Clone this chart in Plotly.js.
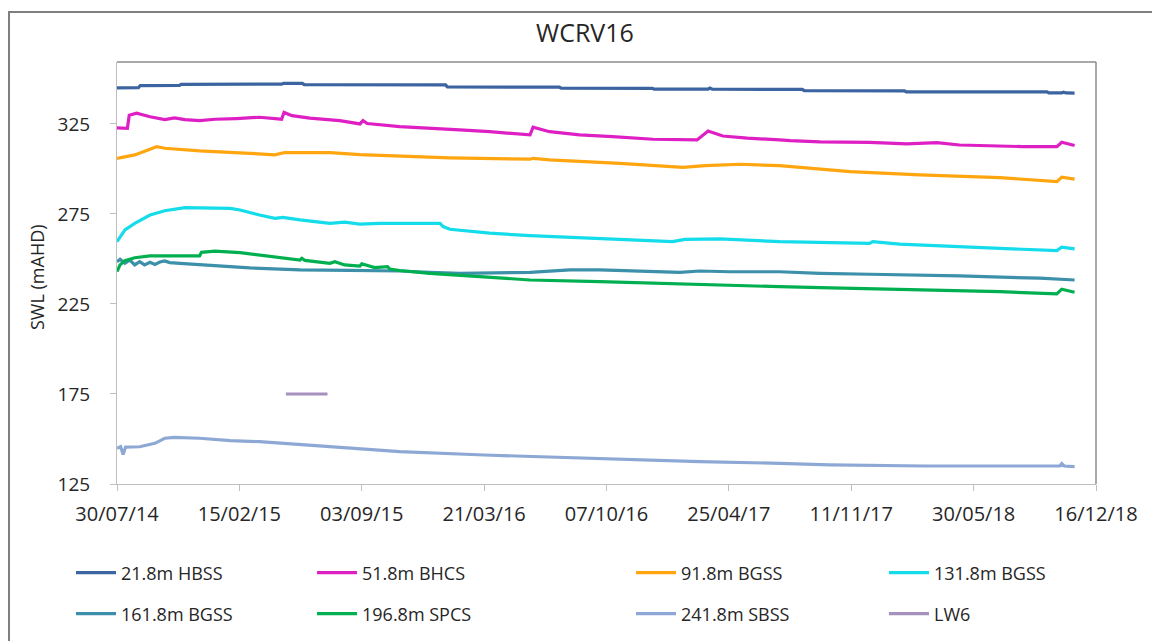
<!DOCTYPE html>
<html>
<head>
<meta charset="utf-8">
<script src="https://cdn.plot.ly/plotly-3.0.1.min.js"></script>
<style>
  html, body { margin: 0; padding: 0; background: #ffffff; }
  #wrap { position: relative; width: 1152px; height: 641px; overflow: hidden; }
  #chart { position: absolute; left: 0; top: 0; width: 1152px; height: 641px; }
  #frame { position: absolute; left: 8px; top: 11px; width: 1300px; height: 800px;
           border-left: 2px solid #7f7f7f; border-top: 2px solid #7f7f7f; pointer-events: none; }
</style>
</head>
<body>
<div id="wrap"><div id="chart"></div><div id="frame"></div></div>
<script>
// ---- Data ----
const chartTitle = 'WCRV16';
const yTitle = 'SWL (mAHD)';
const seriesNames = ['21.8m HBSS', '51.8m BHCS', '91.8m BGSS', '131.8m BGSS',
                     '161.8m BGSS', '196.8m SPCS', '241.8m SBSS', 'LW6'];

const xTickVals = ['2014-07-30','2015-02-15','2015-09-03','2016-03-21','2016-10-07',
                   '2017-04-25','2017-11-11','2018-05-30','2018-12-16'];
const xTickText = ['30/07/14','15/02/15','03/09/15','21/03/16','07/10/16',
                   '25/04/17','11/11/17','30/05/18','16/12/18'];
const yTickVals = [125, 175, 225, 275, 325];

const hbssDates = ['2014-07-30','2014-09-03','2014-09-06','2014-11-09','2014-11-12','2015-04-25','2015-04-28',
  '2015-05-29','2015-06-01','2016-01-18','2016-01-21','2016-05-28','2016-05-31','2016-06-04','2016-07-22',
  '2016-07-25','2016-12-21','2016-12-24','2017-03-22','2017-03-25','2017-03-29','2017-08-23','2017-08-26',
  '2018-02-06','2018-02-09','2018-09-27','2018-09-30','2018-10-21','2018-10-24','2018-10-28','2018-11-11'];
const hbssValues = [345.0,345.1,346.3,346.4,347.0,347.1,347.6,347.5,346.8,346.7,345.5,345.4,345.8,345.4,345.4,
  344.9,344.8,344.3,344.3,344.9,344.3,344.2,343.5,343.4,342.8,342.8,342.2,342.2,342.6,342.2,342.1];

const bhcsDates = ['2014-07-30','2014-08-16','2014-08-19','2014-08-31','2014-09-22','2014-10-16','2014-11-01',
  '2014-11-18','2014-12-12','2015-01-06','2015-02-10','2015-03-20','2015-04-19','2015-04-25','2015-04-29',
  '2015-05-12','2015-06-10','2015-07-29','2015-08-31','2015-09-05','2015-09-12','2015-11-04','2016-02-10',
  '2016-03-30','2016-06-04','2016-06-09','2016-07-06','2016-08-24','2016-10-17','2016-12-22','2017-03-04',
  '2017-03-22','2017-04-15','2017-05-25','2017-07-17','2017-08-03','2017-09-21','2017-12-11','2018-02-10',
  '2018-03-31','2018-05-07','2018-08-18','2018-10-13','2018-10-21','2018-11-11'];
const bhcsValues = [322.8,322.6,329.8,331.0,329.0,327.4,328.4,327.4,326.8,327.6,328.0,328.7,327.8,327.6,331.4,
  329.6,328.2,326.8,325.0,326.8,325.2,323.5,321.7,320.7,318.9,323.2,320.7,318.9,318.0,316.5,316.1,
  321.1,318.3,317.1,316.1,315.7,315.0,314.8,313.9,314.6,313.3,312.4,312.4,314.8,313.0];

const bgss91Dates = ['2014-07-30','2014-08-12','2014-08-28','2014-09-22','2014-10-03','2014-10-16','2014-12-12',
  '2015-03-04','2015-04-14','2015-04-30','2015-07-13','2015-08-31','2015-11-04','2016-01-25','2016-06-04',
  '2016-06-09','2016-07-06','2016-10-29','2017-02-09','2017-03-17','2017-05-14','2017-07-17','2017-11-09',
  '2018-03-03','2018-07-12','2018-10-13','2018-10-21','2018-11-11'];
const bgss91Values = [305.9,306.8,307.8,310.9,312.4,311.5,310.0,308.7,307.8,309.1,309.1,308.0,307.2,306.2,305.4,
  305.9,305.0,303.1,300.9,301.8,302.6,301.8,298.5,296.7,295.2,292.9,295.4,294.3];

const bgss131Dates = ['2014-07-30','2014-08-12','2014-08-28','2014-09-22','2014-10-16','2014-11-18','2015-01-31',
  '2015-02-16','2015-03-20','2015-04-14','2015-04-27','2015-05-25','2015-07-13','2015-08-06','2015-08-31',
  '2015-10-02','2016-01-09','2016-01-14','2016-01-25','2016-03-30','2016-06-04','2016-09-26','2016-12-17',
  '2017-01-23','2017-02-12','2017-04-10','2017-07-17','2017-12-11','2017-12-16','2018-01-29','2018-07-12',
  '2018-10-13','2018-10-21','2018-11-11'];
const bgss131Values = [259.6,266.1,269.8,274.4,276.8,278.5,278.1,277.2,274.4,272.6,273.1,271.7,269.8,270.4,269.3,
  269.8,269.8,268.0,266.5,264.3,263.0,261.5,260.0,259.6,260.9,261.1,259.6,258.7,259.6,258.2,255.9,
  254.6,256.5,255.6];

const bgss161Dates = ['2014-07-30','2014-08-04','2014-08-12','2014-08-20','2014-08-28','2014-09-05','2014-09-13',
  '2014-09-22','2014-09-30','2014-10-08','2014-10-16','2014-10-24','2014-11-10','2014-12-12','2015-01-31',
  '2015-03-04','2015-04-22','2015-05-25','2015-08-14','2015-11-04','2015-12-23','2016-02-10','2016-06-04',
  '2016-07-15','2016-08-08','2016-09-26','2016-10-29','2017-02-04','2017-03-08','2017-04-27','2017-07-17',
  '2017-09-21','2017-12-11','2018-05-07','2018-09-15','2018-11-11'];
const bgss161Values = [248.5,249.8,247.6,249.4,246.7,248.5,246.7,248.2,246.9,248.3,248.9,248.0,247.6,246.7,245.7,
  245.0,244.4,243.9,243.7,243.3,242.6,242.0,242.6,243.5,243.9,243.9,243.5,242.6,243.3,242.9,242.9,
  242.0,241.5,240.6,239.3,238.3];

const spcsDates = ['2014-07-30','2014-08-04','2014-08-12','2014-08-28','2014-09-22','2014-12-12','2014-12-15',
  '2015-01-06','2015-02-16','2015-03-20','2015-05-25','2015-05-28','2015-06-02','2015-07-13','2015-07-21',
  '2015-08-06','2015-08-31','2015-09-03','2015-09-24','2015-10-15','2015-10-19','2015-11-04','2015-12-23',
  '2016-03-14','2016-06-04','2016-09-26','2016-12-17','2017-03-08','2017-07-17','2017-09-21','2018-01-29',
  '2018-07-12','2018-10-13','2018-10-21','2018-11-11'];
const spcsValues = [243.0,246.7,249.1,250.7,251.7,251.7,253.7,254.3,253.5,252.2,249.4,250.4,249.2,247.6,248.5,
  246.7,246.1,247.3,245.2,245.7,244.4,243.6,242.0,240.2,238.3,237.4,236.5,235.9,234.6,234.1,233.2,
  231.8,230.6,233.2,231.5];

const sbssDates = ['2014-07-30','2014-08-05','2014-08-09','2014-08-13','2014-09-05','2014-09-30','2014-10-16',
  '2014-11-01','2014-12-12','2015-01-31','2015-03-20','2015-05-25','2015-08-14','2015-11-04','2016-03-21',
  '2016-09-26','2017-03-08','2017-07-17','2017-10-07','2018-03-11','2018-10-18','2018-10-21','2018-10-25',
  '2018-11-11'];
const sbssValues = [144.8,145.7,141.4,145.5,145.7,147.6,150.4,150.9,150.4,149.1,148.5,147.0,144.8,143.0,141.1,
  138.9,137.4,136.5,135.6,135.0,135.0,136.3,135.0,134.6];

const lw6Dates = ['2015-05-02','2015-07-09'];
const lw6Values = [175, 175];

// ---- Styling ----
const colors = ['#3B64A0', '#DE1FC4', '#FFA510', '#14DCEA', '#3C90AA', '#00B050', '#8EA8D6', '#A690BE'];
const xs = [hbssDates, bhcsDates, bgss91Dates, bgss131Dates, bgss161Dates, spcsDates, sbssDates, lw6Dates];
const ys = [hbssValues, bhcsValues, bgss91Values, bgss131Values, bgss161Values, spcsValues, sbssValues, lw6Values];

// legend layout: 4 columns x 2 rows (row-major order)
const colLinePx = [77, 318, 637, 890];
const rowCenterPx = [573, 614];
const FONT = '"Open Sans", "Liberation Sans", sans-serif';
const TXT = '#262626';

const traces = [];
const layout = {
  width: 1152, height: 641,
  paper_bgcolor: 'rgba(0,0,0,0)', plot_bgcolor: '#ffffff',
  margin: {l: 117, r: 56, t: 62, b: 157, autoexpand: false},
  font: {family: FONT, color: TXT},
  title: {text: chartTitle, font: {family: FONT, size: 25, color: TXT},
          x: 585 / 1152, xref: 'container', xanchor: 'center',
          y: 1 - 33 / 641, yref: 'container', yanchor: 'middle'},
  xaxis: {
    type: 'date', range: ['2014-07-30', '2018-12-16'], automargin: false,
    tickmode: 'array', tickvals: xTickVals, ticktext: xTickText, tickangle: 0,
    ticks: 'outside', ticklen: 6, tickcolor: '#bfbfbf', tickwidth: 1,
    showline: true, linecolor: '#bfbfbf', linewidth: 1, mirror: false,
    showgrid: false, zeroline: false,
    tickfont: {family: FONT, size: 20, color: TXT}, ticklabelstandoff: 6
  },
  yaxis: {
    range: [125, 359.4], tickmode: 'array', tickvals: yTickVals, automargin: false,
    ticks: 'outside', ticklen: 6, tickcolor: '#bfbfbf', tickwidth: 1,
    showline: true, linecolor: '#bfbfbf', linewidth: 1,
    showgrid: false, zeroline: false,
    tickfont: {family: FONT, size: 19, color: TXT}, ticklabelstandoff: 16
  },
  annotations: [
    {text: yTitle, xref: 'paper', yref: 'paper', x: (37 - 117) / 979, y: (484 - 277) / 422,
     xanchor: 'center', yanchor: 'middle', textangle: -90, showarrow: false,
     font: {family: FONT, size: 18, color: TXT}}
  ],
  shapes: [
    {type: 'line', xref: 'paper', yref: 'paper', x0: 0, x1: 1, y0: 1, y1: 1,
     line: {color: '#8c8c8c', width: 1.5}},
    {type: 'line', xref: 'paper', yref: 'paper', x0: 1, x1: 1, y0: 0, y1: 1,
     line: {color: '#8c8c8c', width: 1.5}}
  ],
  showlegend: true
};

for (let i = 0; i < seriesNames.length; i++) {
  const lg = i === 0 ? 'legend' : 'legend' + (i + 1);
  traces.push({
    type: 'scatter', mode: 'lines', name: seriesNames[i],
    x: xs[i], y: ys[i],
    line: {color: colors[i], width: 3.2, shape: 'linear'},
    legend: lg, hoverinfo: 'skip'
  });
  const col = i % 4, row = Math.floor(i / 4);
  layout[lg] = {
    xref: 'container', yref: 'container',
    x: (colLinePx[col] - 6) / 1152, xanchor: 'left',
    y: 1 - rowCenterPx[row] / 641, yanchor: 'middle',
    bgcolor: 'rgba(0,0,0,0)', borderwidth: 0,
    font: {family: FONT, size: 18, color: TXT},
    itemwidth: 40
  };
}

Plotly.newPlot('chart', traces, layout, {staticPlot: true, displayModeBar: false});
</script>
</body>
</html>
